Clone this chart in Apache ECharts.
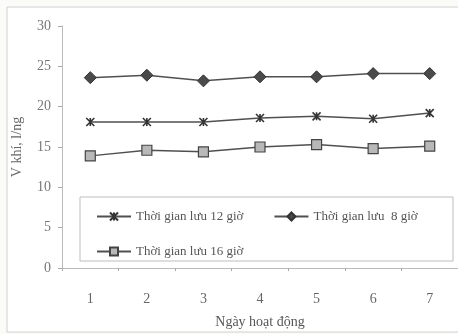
<!DOCTYPE html>
<html>
<head>
<meta charset="utf-8">
<script src="https://cdn.jsdelivr.net/npm/echarts@6/dist/echarts.min.js"></script>
<style>html,body{margin:0;padding:0;background:#fbfbf8;}#c{width:458px;height:334px;}</style>
</head>
<body>
<div id="c"></div>
<script>
const days = ['1','2','3','4','5','6','7'];
const s12 = [18.1, 18.1, 18.1, 18.6, 18.8, 18.5, 19.2];
const s8  = [23.6, 23.9, 23.2, 23.7, 23.7, 24.1, 24.1];
const s16 = [13.9, 14.6, 14.4, 15.0, 15.3, 14.8, 15.1];
const yTicks = [0, 5, 10, 15, 20, 25, 30];
const names = ['Thời gian lưu 12 giờ', 'Thời gian lưu  8 giờ', 'Thời gian lưu 16 giờ'];

const font = '"Liberation Serif", "DejaVu Serif", serif';
const lineColor = '#505050';
const chart = echarts.init(document.getElementById('c'));
const legendText = {fontFamily: font, fontSize: 13, color: '#555'};
chart.setOption({
  backgroundColor: '#fbfbf8',
  animation: false,
  graphic: [
    {type: 'rect', shape: {x: 7, y: 7, width: 470, height: 325}, style: {fill: '#ffffff', stroke: '#d0d0d0', lineWidth: 1}, z: -10},
    {type: 'rect', shape: {x: 80, y: 197, width: 373, height: 64}, style: {fill: '#ffffff', stroke: '#bdbdbd', lineWidth: 1}, z: 1}
  ],
  grid: {left: 62, top: 26, width: 398, bottom: 64},
  legend: [
    {data: [names[0], names[1]], left: 91, top: 205, itemWidth: 34, itemHeight: 10, itemGap: 30, textStyle: legendText, z: 5},
    {data: [names[2]], left: 91, top: 240, itemWidth: 34, itemHeight: 10, textStyle: legendText, z: 5}
  ],
  xAxis: {
    type: 'category', data: days, boundaryGap: true,
    name: 'Ngày hoạt động', nameLocation: 'middle', nameGap: 47,
    nameTextStyle: {fontFamily: font, fontSize: 14, color: '#555'},
    axisLine: {lineStyle: {color: '#bbbbbb'}},
    axisTick: {show: true, length: 3, lineStyle: {color: '#aaa'}},
    axisLabel: {fontFamily: font, fontSize: 14, color: '#666', margin: 24}
  },
  yAxis: {
    type: 'value', min: 0, max: 30, interval: 5,
    name: 'V khí, l/ng', nameLocation: 'middle', nameGap: 38, nameRotate: 90,
    nameTextStyle: {fontFamily: font, fontSize: 14, color: '#666'},
    axisLine: {show: true, lineStyle: {color: '#bbbbbb'}},
    axisTick: {show: true, length: 4, lineStyle: {color: '#aaa'}},
    splitLine: {show: false},
    axisLabel: {fontFamily: font, fontSize: 14, color: '#777', margin: 11,
      formatter: v => yTicks.includes(v) ? String(v) : ''}
  },
  series: [
    {name: names[0], type: 'line', data: s12, symbol: 'path://M0,0L10,10M10,0L0,10M5,0L5,10', symbolSize: 8,
      lineStyle: {color: lineColor, width: 1.5}, itemStyle: {color: 'none', borderColor: '#333', borderWidth: 1.6}},
    {name: names[1], type: 'line', data: s8, symbol: 'diamond', symbolSize: 12,
      lineStyle: {color: lineColor, width: 1.5}, itemStyle: {color: '#4a4a4a', borderColor: '#333', borderWidth: 1}},
    {name: names[2], type: 'line', data: s16, symbol: 'rect', symbolSize: 10,
      lineStyle: {color: lineColor, width: 1.5}, itemStyle: {color: '#b8b8b8', borderColor: '#444', borderWidth: 1.2}}
  ]
});
</script>
</body>
</html>
